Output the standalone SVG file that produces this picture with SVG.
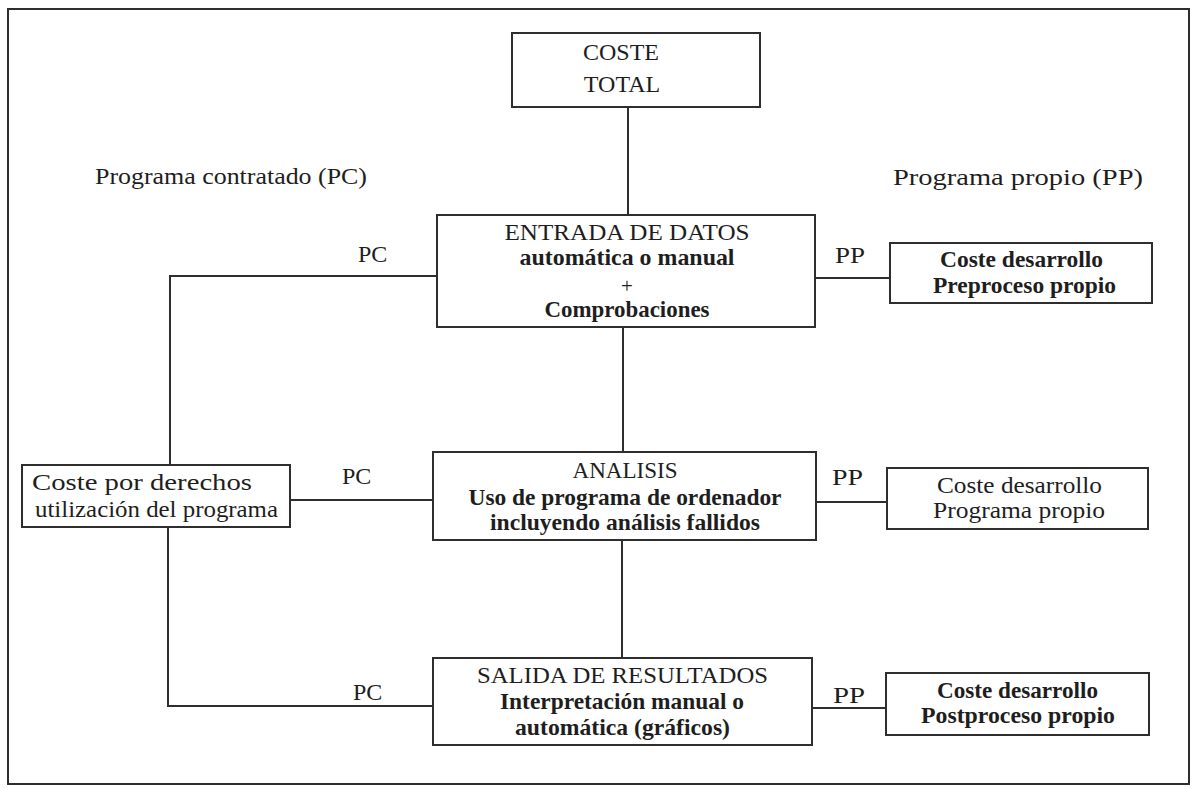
<svg xmlns="http://www.w3.org/2000/svg" width="1194" height="788" viewBox="0 0 1194 788">
<style>
  .box { fill: #ffffff; stroke: #2e2e2e; stroke-width: 2; }
  .ln { fill: none; stroke: #2e2e2e; stroke-width: 2; }
  .t { font-family: "Liberation Serif", "Times New Roman", serif; font-size: 24px; fill: #1e1e1e; text-anchor: middle; }
  .b { font-weight: bold; font-size: 23.5px; }
  .l { text-anchor: start; }
</style>
<rect width="1194" height="788" fill="#ffffff"/>
<rect id="frame" x="8" y="9" width="1181" height="775" fill="none" stroke="#2e2e2e" stroke-width="2"/>

<g id="connectors">
  <path class="ln" d="M628 107 V215"/>
  <path class="ln" d="M623 327 V452"/>
  <path class="ln" d="M622 540 V658"/>
  <path class="ln" d="M437 276 H170 V465"/>
  <path class="ln" d="M168 527 V706 H433"/>
  <path class="ln" d="M290 500 H433"/>
  <path class="ln" d="M815 278 H890"/>
  <path class="ln" d="M816 502 H887"/>
  <path class="ln" d="M812 708 H886"/>
  <text class="t l" x="358" y="262">PC</text>
  <text class="t l" x="342" y="484">PC</text>
  <text class="t l" x="353" y="700">PC</text>
  <text class="t l" x="835" y="263" textLength="30" lengthAdjust="spacingAndGlyphs">PP</text>
  <text class="t l" x="832" y="485" textLength="31" lengthAdjust="spacingAndGlyphs">PP</text>
  <text class="t l" x="833" y="703" textLength="32" lengthAdjust="spacingAndGlyphs">PP</text>
</g>

<g id="label-pc">
  <text class="t l" x="95" y="184" textLength="272" lengthAdjust="spacingAndGlyphs">Programa contratado (PC)</text>
</g>
<g id="label-pp">
  <text class="t l" x="893" y="185" textLength="250" lengthAdjust="spacingAndGlyphs">Programa propio (PP)</text>
</g>

<g id="coste-total">
  <rect class="box" x="512" y="33" width="248" height="74"/>
  <text class="t" x="621" y="60">COSTE</text>
  <text class="t" x="622" y="92">TOTAL</text>
</g>

<g id="entrada">
  <rect class="box" x="437" y="215" width="378" height="112"/>
  <text class="t" x="627" y="240" textLength="245" lengthAdjust="spacingAndGlyphs">ENTRADA DE DATOS</text>
  <text class="t b" x="627" y="265" textLength="215" lengthAdjust="spacingAndGlyphs">automática o manual</text>
  <text class="t" x="627" y="293" style="font-size:21px">+</text>
  <text class="t b" x="627" y="317" textLength="165" lengthAdjust="spacingAndGlyphs">Comprobaciones</text>
</g>

<g id="analisis">
  <rect class="box" x="433" y="452" width="383" height="88"/>
  <text class="t" x="625" y="478" textLength="105" lengthAdjust="spacingAndGlyphs">ANALISIS</text>
  <text class="t b" x="625" y="505" textLength="313" lengthAdjust="spacingAndGlyphs">Uso de programa de ordenador</text>
  <text class="t b" x="625" y="530" textLength="270" lengthAdjust="spacingAndGlyphs">incluyendo análisis fallidos</text>
</g>

<g id="salida">
  <rect class="box" x="433" y="658" width="379" height="87"/>
  <text class="t" x="622.5" y="683" textLength="291" lengthAdjust="spacingAndGlyphs">SALIDA DE RESULTADOS</text>
  <text class="t b" x="622" y="709" textLength="244" lengthAdjust="spacingAndGlyphs">Interpretación manual o</text>
  <text class="t b" x="622.5" y="735" textLength="215" lengthAdjust="spacingAndGlyphs">automática (gráficos)</text>
</g>

<g id="derechos">
  <rect class="box" x="22" y="465" width="268" height="62"/>
  <text class="t l" x="32" y="490" textLength="220" lengthAdjust="spacingAndGlyphs">Coste por derechos</text>
  <text class="t l" x="35" y="517" textLength="243" lengthAdjust="spacingAndGlyphs">utilización del programa</text>
</g>

<g id="pp-preproceso">
  <rect class="box" x="890" y="243" width="262" height="60"/>
  <text class="t b" x="1021.5" y="267" textLength="163" lengthAdjust="spacingAndGlyphs">Coste desarrollo</text>
  <text class="t b" x="1024.5" y="293" textLength="183" lengthAdjust="spacingAndGlyphs">Preproceso propio</text>
</g>

<g id="pp-programa">
  <rect class="box" x="887" y="468" width="261" height="61"/>
  <text class="t" x="1019.5" y="493" textLength="165" lengthAdjust="spacingAndGlyphs">Coste desarrollo</text>
  <text class="t" x="1019" y="518" textLength="172" lengthAdjust="spacingAndGlyphs">Programa propio</text>
</g>

<g id="pp-postproceso">
  <rect class="box" x="886" y="673" width="263" height="62"/>
  <text class="t b" x="1017.5" y="698" textLength="161" lengthAdjust="spacingAndGlyphs">Coste desarrollo</text>
  <text class="t b" x="1018" y="723" textLength="194" lengthAdjust="spacingAndGlyphs">Postproceso propio</text>
</g>
</svg>
